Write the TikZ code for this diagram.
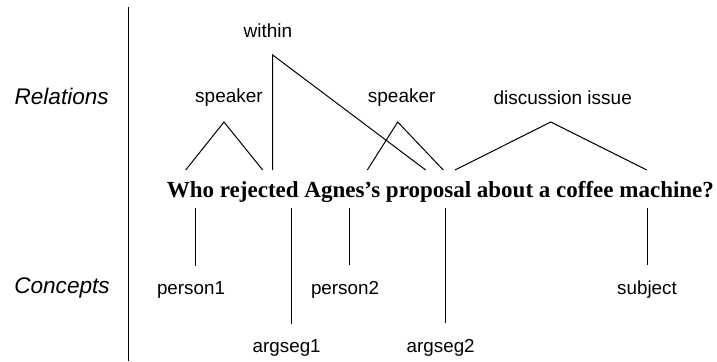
\documentclass[tikz,border=0pt]{standalone}
\usepackage{fontspec}
\setmainfont{Liberation Serif}
\setsansfont{Liberation Sans}
\newlength{\px}
\setlength{\px}{0.5pt}
\tikzset{
	link/.style={line width=0.5pt},
	rel/.style={font=\sffamily\fontsize{9.5}{11}\selectfont,inner sep=0pt},
	concept/.style={font=\sffamily\fontsize{9.4}{11}\selectfont,inner xsep=0pt,inner ysep=7.8pt},
	side/.style={font=\sffamily\itshape\fontsize{11.3}{13}\selectfont,inner sep=0pt},
	sent/.style={font=\bfseries\fontsize{11.5}{13}\selectfont,inner sep=0pt,anchor=base west}
}
% #1 name, #2 label x, #3 apex x, #4 apex y, #5 left end x, #6 right end x, #7 text
\newcommand{\Relation}[7]{%
	\coordinate (#1) at (#3,#4);
	\coordinate (#1-l) at (#5,170);
	\coordinate (#1-r) at (#6,170);
	\node[rel] (#1-lbl) at (#2,#4-24.5) {#7};
	\draw[link] (#1-l) -- (#1) -- (#1-r);
}
% #1 name, #2 word x, #3 label x, #4 label y, #5 text
\newcommand{\Concept}[5]{%
	\coordinate (#1-w) at (#2,208);
	\node[concept] (#1) at (#3,#4) {#5};
	\draw[link] (#1-w) -- (#1-w |- #1.north);
}

\begin{document}
\begin{tikzpicture}[x=\px,y=-\px]
	\useasboundingbox (0,0) rectangle (717,361);
	
	% separateur et titres de lignes
	\coordinate (rule-t) at (128.3,7);
	\coordinate (rule-b) at (128.3,361);
	\draw[link] (rule-t) -- (rule-b);
	\node[side] (relations) at (61.7,96) {Relations};
	\node[side] (concepts) at (62,288) {Concepts};
	
	% --- la question ---
	\node[sent] (question) at (166.5,197) {Who rejected Agnes’s proposal about a coffee machine?};
	
	% --- relations (au-dessus) ---
	\Relation{within}{268}{272.7}{55}{272.7}{425.7}{within}
	\Relation{speakerA}{229}{224}{122}{185.7}{262.7}{speaker}
	\Relation{speakerB}{401.7}{397.7}{122}{367.3}{443.3}{speaker}
	\Relation{issue}{562.7}{550.7}{122}{455}{646.7}{discussion issue}
	
	% --- concepts (au-dessous) ---
	\Concept{person1}{195.3}{191}{290}{person1}
	\Concept{argseg1}{291.7}{286.7}{348}{argseg1}
	\Concept{person2}{349}{345}{290}{person2}
	\Concept{argseg2}{445}{440.7}{348}{argseg2}
	\Concept{subject}{647}{647}{290}{subject}
	
\end{tikzpicture}
\end{document}
